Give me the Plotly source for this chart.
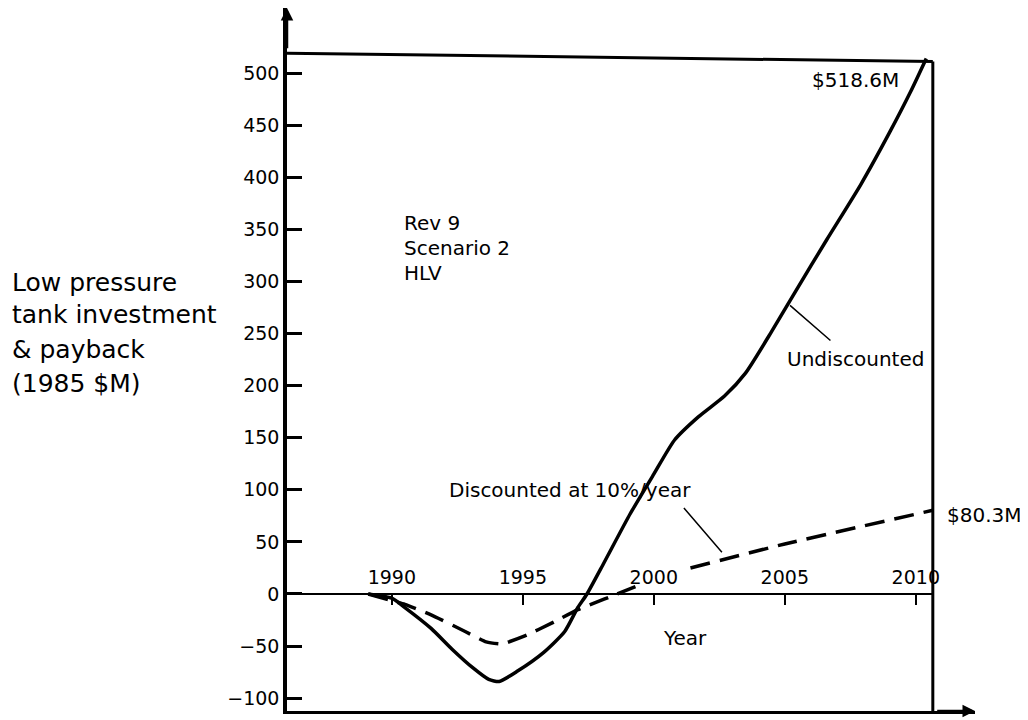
import plotly.graph_objects as go

# values (1985 $M)
undisc_years = [1989.1, 1990.0, 1990.5, 1991.5, 1992.3, 1993.1, 1993.7, 1994.1, 1994.8,
                1995.8, 1996.6, 1997.1, 1997.45, 1998.1, 1999.1, 2000.0, 2000.8, 2001.7,
                2002.7, 2003.5, 2004.5, 2005.4, 2006.6, 2007.9, 2009.0, 2009.8, 2010.4]
undisc_vals = [0, -4, -13, -33, -53, -71, -82, -84, -74,
               -56, -36, -13, 0, 30, 77, 115, 148, 170,
               190, 212, 252, 290, 340, 393, 443, 482, 514]

disc_years = [1989.1, 1990.5, 1991.5, 1992.8, 1993.6, 1994.2, 1995.1, 1996.1, 1997.1,
              1998.1, 1999.3, 2000.4, 2001.4, 2005.0, 2010.65]
disc_vals = [0, -10, -20, -36, -46, -48, -40, -28, -15,
             -5, 7, None, 25, 48, 80.3]

x_ticks = [1990, 1995, 2000, 2005, 2010]
y_ticks = list(range(-100, 501, 50))

FONT = "DejaVu Sans, Verdana, sans-serif"
X0, X1 = 1986, 2012.26
XR = 2010.65
Y0, Y1 = -112.3, 562.4

fig = go.Figure()

fig.add_trace(go.Scatter(
    x=undisc_years, y=undisc_vals, mode="lines", name="Undiscounted",
    line=dict(color="black", width=3.5, shape="spline", smoothing=0.6),
))
fig.add_trace(go.Scatter(
    x=disc_years, y=disc_vals, mode="lines", name="Discounted at 10%/year",
    line=dict(color="black", width=3.5, dash="20px,10px", shape="spline", smoothing=0.4),
    connectgaps=False,
))

# frame: top and right borders, zero line
fig.add_shape(type="line", x0=X0, y0=519, x1=XR, y1=511,
              line=dict(color="black", width=3), layer="below")
fig.add_shape(type="line", x0=XR, y0=Y0, x1=XR, y1=511,
              line=dict(color="black", width=3), layer="below")
fig.add_shape(type="line", x0=X0, y0=0, x1=XR, y1=0,
              line=dict(color="black", width=2), layer="below")

# leader lines
fig.add_annotation(x=2005.2, y=277, ax=2006.8, ay=242, axref="x", ayref="y",
                   showarrow=True, arrowhead=0, arrowwidth=1.5, arrowcolor="black", text="")
fig.add_annotation(x=2002.6, y=40, ax=2001.1, ay=84, axref="x", ayref="y",
                   showarrow=True, arrowhead=0, arrowwidth=1.5, arrowcolor="black", text="")

# axis arrows
fig.add_annotation(x=X0, y=Y1, ax=X0, ay=Y1 - 40, axref="x", ayref="y",
                   showarrow=True, arrowhead=2, arrowsize=1, arrowwidth=2.5,
                   arrowcolor="black", text="")
fig.add_annotation(x=X1, y=Y0, ax=X1 - 1.5, ay=Y0, axref="x", ayref="y",
                   showarrow=True, arrowhead=2, arrowsize=1, arrowwidth=2.5,
                   arrowcolor="black", text="")

txt = dict(family=FONT, size=20, color="black")
fig.add_annotation(x=2009.45, y=493, text="$518.6M", showarrow=False, xanchor="right", font=txt)
fig.add_annotation(x=2010.4, y=226, text="Undiscounted", showarrow=False, xanchor="right", font=txt)
fig.add_annotation(x=1996.8, y=100, text="Discounted at 10%/year", showarrow=False, font=txt)
fig.add_annotation(x=2011.1, y=76, text="$80.3M", showarrow=False, xanchor="left", font=txt)
fig.add_annotation(x=2001.2, y=-42, text="Year", showarrow=False, font=txt)

for yv, line in zip([356, 332, 308], ["Rev 9", "Scenario 2", "HLV"]):
    fig.add_annotation(x=1990.4, y=yv, text=line, showarrow=False, xanchor="left", font=txt)

for yv, line in zip([299.4, 267.8, 234.2, 202.5],
                    ["Low pressure", "tank investment", "& payback", "(1985 $M)"]):
    fig.add_annotation(x=-0.4026, xref="paper", y=yv, text=line, showarrow=False,
                       xanchor="left", font=dict(family=FONT, size=25, color="black"))

# page body adds 8px; margins compensate so the plot sits where the original does
fig.update_layout(
    width=1028, height=720,
    margin=dict(l=279, r=61, t=0, b=17),
    paper_bgcolor="white", plot_bgcolor="white",
    showlegend=False,
    font=dict(family=FONT, size=19, color="black"),
    xaxis=dict(range=[X0, X1], showgrid=False, zeroline=False, showticklabels=False,
               showline=True, linecolor="black", linewidth=3, ticks=""),
    xaxis2=dict(range=[X0, X1], overlaying="x",
                anchor="free", position=(0 - Y0) / (Y1 - Y0), side="top",
                tickvals=x_ticks, ticks="inside", ticklen=10, tickwidth=2, tickcolor="black",
                ticklabelstandoff=6,
                showline=False, showgrid=False, zeroline=False,
                tickfont=dict(family=FONT, size=19, color="black")),
    yaxis=dict(range=[Y0, Y1], tickvals=y_ticks, ticks="inside", ticklen=15, tickwidth=2.5,
               tickcolor="black", showline=True, linecolor="black", linewidth=3.5,
               showgrid=False, zeroline=False,
               tickfont=dict(family=FONT, size=19, color="black")),
)
# invisible trace so xaxis2 gets drawn
fig.add_trace(go.Scatter(x=[X0], y=[0], xaxis="x2", mode="none", hoverinfo="skip"))

fig.write_html("out.html")
